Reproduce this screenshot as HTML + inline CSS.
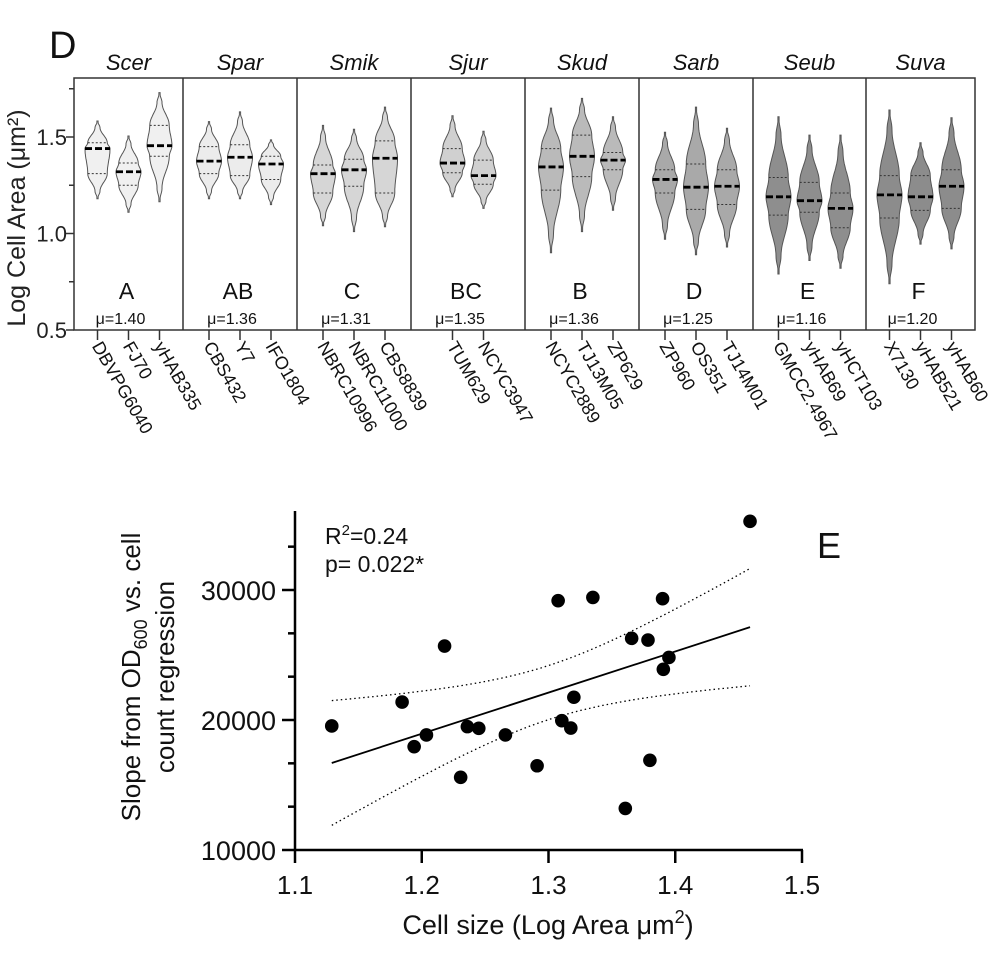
<!DOCTYPE html>
<html><head><meta charset="utf-8">
<style>
html,body{margin:0;padding:0;background:#fff;}
svg{display:block;font-family:"Liberation Sans",Arial,sans-serif;}
</style></head>
<body>
<svg id="chart" width="1000" height="960" viewBox="0 0 1000 960" xmlns="http://www.w3.org/2000/svg">
<g id="panelD"></g>
<g id="panelE"></g>
</svg>
<script>
// ---------- Panel D data ----------
const groups = ["Scer","Spar","Smik","Sjur","Skud","Sarb","Seub","Suva"];
const groupLetters = ["A","AB","C","BC","B","D","E","F"];
const groupMeans = ["μ=1.40","μ=1.36","μ=1.31","μ=1.35","μ=1.36","μ=1.25","μ=1.16","μ=1.20"];
const strainNames = [
 ["DBVPG6040","FJ70","yHAB335"],["CBS432","Y7","IFO1804"],["NBRC10996","NBRC11000","CBS8839"],
 ["TUM629","NCYC3947"],["NCYC2889","TJ13M05","ZP629"],["ZP960","OS351","TJ14M01"],
 ["GMCC2.4967","yHAB69","yHCT103"],["X7130","yHAB521","yHAB60"]];
const vMin = [[1.18,1.11,1.165],[1.18,1.18,1.15],[1.04,1.01,1.035],[1.19,1.13],[0.90,1.01,1.12],[0.97,0.89,0.93],[0.79,0.86,0.82],[0.74,0.945,0.92]];
const vQ1  = [[1.31,1.25,1.40],[1.31,1.30,1.28],[1.21,1.245,1.21],[1.315,1.255],[1.225,1.295,1.33],[1.21,1.125,1.15],[1.095,1.11,1.03],[1.08,1.12,1.13]];
const vMed = [[1.44,1.32,1.455],[1.375,1.395,1.36],[1.31,1.33,1.39],[1.365,1.30],[1.345,1.40,1.38],[1.28,1.24,1.245],[1.19,1.17,1.13],[1.20,1.19,1.245]];
const vQ3  = [[1.47,1.365,1.56],[1.45,1.46,1.40],[1.355,1.385,1.48],[1.44,1.38],[1.44,1.51,1.42],[1.33,1.36,1.33],[1.29,1.265,1.21],[1.30,1.30,1.33]];
const vMax = [[1.583,1.505,1.73],[1.58,1.63,1.485],[1.56,1.54,1.655],[1.61,1.53],[1.65,1.70,1.605],[1.525,1.655,1.545],[1.605,1.51,1.51],[1.64,1.47,1.60]];
const yTicksD = [0.5,1.0,1.5];
const yMinorD = [0.75,1.25,1.75];

// ---------- Panel E data ----------
const cellSize = [1.129,1.1845,1.218,1.194,1.2037,1.2307,1.236,1.245,1.266,1.291,1.3076,1.3105,1.3176,1.320,1.335,1.3606,1.3656,1.3785,1.380,1.390,1.3906,1.395,1.459];
const slopeVals = [19540,21380,25690,17950,18850,15590,19490,19360,18850,16480,29180,19950,19380,21750,29430,13200,26280,26150,16900,29330,23900,24810,35280];
const xTicksE = [1.1,1.2,1.3,1.4,1.5];
const xTickLabelsE = ["1.1","1.2","1.3","1.4","1.5"];
const yTicksE = [10000,20000,30000];
const yMinorE = [13333,16667,23333,26667,33333];

const NS="http://www.w3.org/2000/svg";
function mk(parent,tag,attrs,text){const e=document.createElementNS(NS,tag);for(const k in attrs)e.setAttribute(k,attrs[k]);if(text!==undefined)e.textContent=text;parent.appendChild(e);return e;}

// ----- Panel D -----
const gTop=document.getElementById('panelD');
const yD=v=>330-(v-0.5)*193;
const bounds=[74,183,297,411,525,639,753,866,975];
const fills=["#f0f0f0","#ececec","#d6d6d6","#d0d0d0","#bababa","#a9a9a9","#8e8e8e","#8c8c8c"];
let t=mk(gTop,'text',{x:49,y:58,'font-size':38,fill:'#111'},'D');


let fr=mk(gTop,'rect',{x:74,y:78,width:901,height:252,fill:'none',stroke:'#333','stroke-width':1.5});


yTicksD.forEach(v=>{
 let l=mk(gTop,'line',{x1:66,x2:74,y1:yD(v),y2:yD(v),stroke:'#333','stroke-width':1.5});
 
 
 let tx=mk(gTop,'text',{x:67,y:yD(v)+8,'font-size':22,'text-anchor':'end',fill:'#222'},v.toFixed(1));
 
 
});
yMinorD.forEach(v=>{
 let l=mk(gTop,'line',{x1:69,x2:74,y1:yD(v),y2:yD(v),stroke:'#333','stroke-width':1.5});
 
 
});
t=mk(gTop,'text',{x:0,y:0,'font-size':25,'text-anchor':'middle',transform:'translate(25,218) rotate(-90)',fill:'#222'},'Log Cell Area (μm²)');



function halfWidth(v,mn,q1,md,q3,mx,w){
 const kn=[[mn,0],[mn+(q1-mn)*0.3,0.2],[q1,0.78],[md,1],[q3,0.78],[q3+(mx-q3)*0.7,0.2],[mx,0]];
 for(let i=0;i<kn.length-1;i++){const a=kn[i],b=kn[i+1];if(v>=a[0]&&v<=b[0]){const f=(v-a[0])/(b[0]-a[0]||1);const s=(1-Math.cos(Math.PI*f))/2;return w*(a[1]+(b[1]-a[1])*s);}}
 return 0;
}
groups.forEach((g,gi)=>{
 const x0=bounds[gi],x1=bounds[gi+1],cx=(x0+x1)/2;
 if(gi>0){let d=mk(gTop,'line',{x1:x0,x2:x0,y1:78,y2:330,stroke:'#333','stroke-width':1.5});
  
  }
 let gt=mk(gTop,'text',{x:cx,y:70,'font-size':22,'font-style':'italic','text-anchor':'middle',fill:'#111'},g);
 
 
 let lt=mk(gTop,'text',{x:cx-2,y:299,'font-size':23,'text-anchor':'middle',fill:'#111'},groupLetters[gi]);
 
 
 let mt=mk(gTop,'text',{x:cx-8,y:324,'font-size':16,'text-anchor':'middle',fill:'#111'},groupMeans[gi]);
 
 
 const ns=strainNames[gi].length;
 strainNames[gi].forEach((s,j)=>{
  const sx=cx+(j-(ns-1)/2)*31;
  const mn=vMin[gi][j],q1=vQ1[gi][j],md=vMed[gi][j],q3=vQ3[gi][j],mx=vMax[gi][j];
  const w=12.5;
  let L=[],R=[];
  for(let k=0;k<=60;k++){const v=mn+(mx-mn)*k/60;const h=halfWidth(v,mn,q1,md,q3,mx,w);L.push([sx-Math.max(h,0.6),yD(v)]);R.push([sx+Math.max(h,0.6),yD(v)]);}
  const pts=L.concat(R.reverse()).map(p=>p[0].toFixed(1)+','+p[1].toFixed(1)).join(' ');
  let vp=mk(gTop,'polygon',{points:pts,fill:fills[gi],stroke:'#555','stroke-width':1});
  
  
  [q1,q3].forEach(q=>{const h=halfWidth(q,mn,q1,md,q3,mx,w);
   let ql=mk(gTop,'line',{x1:sx-h,x2:sx+h,y1:yD(q),y2:yD(q),stroke:'#333','stroke-width':1,'stroke-dasharray':'2,2'});
   
   });
  const hm=halfWidth(md,mn,q1,md,q3,mx,w);
  let ml=mk(gTop,'line',{x1:sx-hm,x2:sx+hm,y1:yD(md),y2:yD(md),stroke:'#000','stroke-width':2.8,'stroke-dasharray':'7,3'});
  
  
  let tk=mk(gTop,'line',{x1:sx,x2:sx,y1:330,y2:340,stroke:'#333','stroke-width':1.5});
  
  
  let sl=mk(gTop,'text',{x:0,y:0,'font-size':18,fill:'#111',transform:`translate(${sx-6},${346}) rotate(60)`},s);
  
  
 });
});

// ----- Panel E -----
const gBot=document.getElementById('panelE');
const xE=v=>295+(v-1.1)*1267.5;
const yE=v=>850-(v-10000)*0.013;
let ax=mk(gBot,'line',{x1:295,x2:295,y1:511,y2:851,stroke:'#000','stroke-width':2.5});


ax=mk(gBot,'line',{x1:294,x2:803,y1:850,y2:850,stroke:'#000','stroke-width':2.5});


yTicksE.forEach(v=>{
 let l=mk(gBot,'line',{x1:282,x2:295,y1:yE(v),y2:yE(v),stroke:'#000','stroke-width':2.5});
 
 
 let tx=mk(gBot,'text',{x:276,y:yE(v)+10,'font-size':27,'text-anchor':'end',fill:'#111'},String(v));
 
 
});
yMinorE.forEach(v=>{
 let l=mk(gBot,'line',{x1:288,x2:295,y1:yE(v),y2:yE(v),stroke:'#000','stroke-width':2.5});
 
 
});
xTicksE.forEach((v,i)=>{
 let l=mk(gBot,'line',{x1:xE(v),x2:xE(v),y1:850,y2:863,stroke:'#000','stroke-width':2.5});
 
 
 let tx=mk(gBot,'text',{x:xE(v),y:894,'font-size':26,'text-anchor':'middle',fill:'#111'},xTickLabelsE[i]);
 
 
});
t=mk(gBot,'text',{x:548,y:934,'font-size':27,'text-anchor':'middle',fill:'#111'});


t.innerHTML='Cell size (Log Area μm<tspan dy="-11" font-size="18">2</tspan><tspan dy="11">)</tspan>';
t=mk(gBot,'text',{x:0,y:0,'font-size':26,'text-anchor':'middle',fill:'#111',transform:'translate(140,677) rotate(-90)'});


t.innerHTML='Slope from OD<tspan dy="7" font-size="18">600</tspan><tspan dy="-7"> vs. cell</tspan>';
t=mk(gBot,'text',{x:0,y:0,'font-size':26,'text-anchor':'middle',fill:'#111',transform:'translate(174,677) rotate(-90)'},'count regression');


t=mk(gBot,'text',{x:325,y:544,'font-size':23,fill:'#111'});


t.innerHTML='R<tspan dy="-9" font-size="15">2</tspan><tspan dy="9">=0.24</tspan>';
t=mk(gBot,'text',{x:325,y:572,'font-size':23,fill:'#111'},'p= 0.022*');


t=mk(gBot,'text',{x:817,y:558,'font-size':36,fill:'#111'},'E');



// regression + 95% CI computed from data
const nPts=cellSize.length;
const mx_=cellSize.reduce((a,b)=>a+b)/nPts, my_=slopeVals.reduce((a,b)=>a+b)/nPts;
let sxx=0,sxy=0;for(let i=0;i<nPts;i++){sxx+=(cellSize[i]-mx_)**2;sxy+=(cellSize[i]-mx_)*(slopeVals[i]-my_);}
const b1=sxy/sxx,b0=my_-b1*mx_;
let sse=0;for(let i=0;i<nPts;i++)sse+=(slopeVals[i]-b0-b1*cellSize[i])**2;
const se=Math.sqrt(sse/(nPts-2)),tc=2.08;
const xlo=Math.min(...cellSize),xhi=Math.max(...cellSize);
let up=[],lo=[];
for(let k=0;k<=40;k++){const x=xlo+(xhi-xlo)*k/40;const yh=b0+b1*x;const d=tc*se*Math.sqrt(1/nPts+(x-mx_)**2/sxx);up.push(xE(x).toFixed(1)+','+yE(yh+d).toFixed(1));lo.push(xE(x).toFixed(1)+','+yE(yh-d).toFixed(1));}
let cu=mk(gBot,'polyline',{points:up.join(' '),fill:'none',stroke:'#000','stroke-width':1.3,'stroke-dasharray':'1.5,3'});


let cl=mk(gBot,'polyline',{points:lo.join(' '),fill:'none',stroke:'#000','stroke-width':1.3,'stroke-dasharray':'1.5,3'});


let rl=mk(gBot,'line',{x1:xE(xlo),y1:yE(b0+b1*xlo),x2:xE(xhi),y2:yE(b0+b1*xhi),stroke:'#000','stroke-width':1.8});


for(let i=0;i<nPts;i++){
 let c=mk(gBot,'circle',{cx:xE(cellSize[i]),cy:yE(slopeVals[i]),r:6.8,fill:'#000'});
 
 
}
</script>
</body></html>
